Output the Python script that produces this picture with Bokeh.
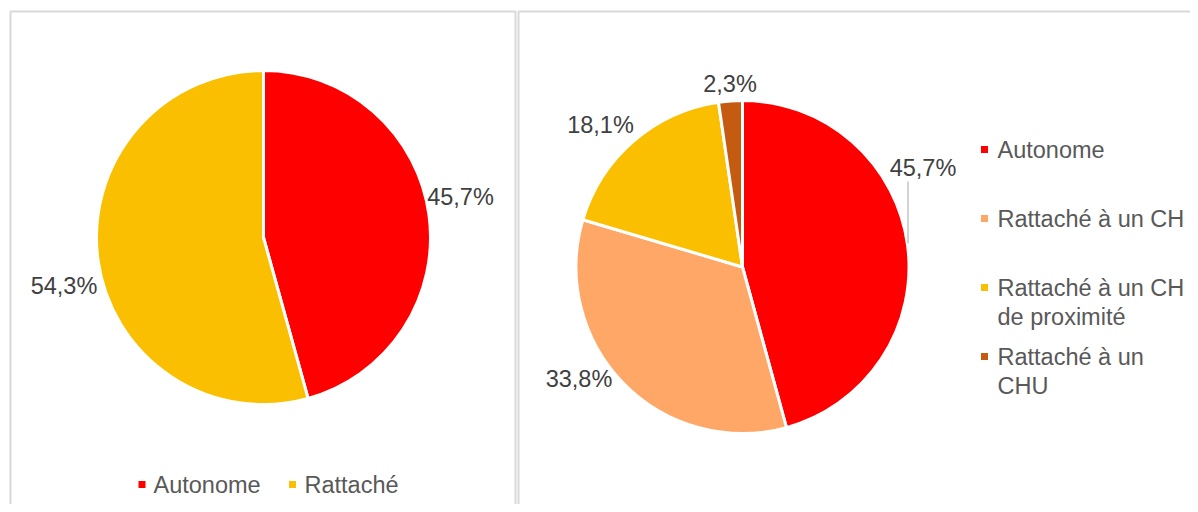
import numpy as np
from bokeh.plotting import figure
from bokeh.models import Range1d
from bokeh.core.properties import value
from bokeh.embed import file_html
from bokeh.resources import INLINE

# ---------------- data ----------------
left_categories = ["Autonome", "Rattaché"]
left_values = [45.7, 54.3]
left_colors = ["#FF0000", "#FABF00"]

right_categories = ["Autonome", "Rattaché à un CH", "Rattaché à un CH de proximité", "Rattaché à un CHU"]
right_values = [45.7, 33.8, 18.1, 2.3]
right_colors = ["#FF0000", "#FFA766", "#FABF00", "#C55A11"]
right_legend_lines = [["Autonome"], ["Rattaché à un CH"], ["Rattaché à un CH", "de proximité"], ["Rattaché à un", "CHU"]]


def fmt(v):
    return f"{v:.1f}%".replace(".", ",")


# ---------------- layout (screen pixels of the photographed picture) ----------------
W, H = 1190, 504


def Y(ys):
    return H - ys


FONT = value("Liberation Sans")
LABEL_COLOR = "#404040"
LEGEND_COLOR = "#595959"
FS = "23.5px"

p = figure(width=W, height=H, x_range=Range1d(0, W), y_range=Range1d(0, H),
           output_backend="svg", toolbar_location=None, min_border=0,
           min_border_left=0, min_border_right=0, min_border_top=0, min_border_bottom=0,
           x_axis_location=None, y_axis_location=None, outline_line_color=None,
           background_fill_color="white", border_fill_color="white")
p.grid.visible = False

# panel borders
p.quad(left=[10, 518], right=[515, 1220], top=[Y(11), Y(11)], bottom=[Y(540), Y(540)],
       fill_color=None, line_color="#D9D9D9", line_width=2)


def draw_pie(cx, cy, r, values, colors):
    vals = np.array(values, dtype=float)
    frac = vals / vals.sum()
    cum = np.concatenate([[0.0], np.cumsum(frac)])
    starts = np.pi / 2 - 2 * np.pi * cum[:-1]
    ends = np.pi / 2 - 2 * np.pi * cum[1:]
    p.wedge(x=[cx] * len(vals), y=[Y(cy)] * len(vals), radius=r,
            start_angle=list(starts), end_angle=list(ends), direction="clock",
            fill_color=colors, line_color="white", line_width=3)


# left pie
draw_pie(263, 237, 167, left_values, left_colors)
left_label_pos = [(460, 196), (63.5, 285.5)]
p.text(x=[q[0] for q in left_label_pos], y=[Y(q[1]) for q in left_label_pos],
       text=[fmt(v) for v in left_values], text_font=FONT, text_font_size=FS,
       text_color=LABEL_COLOR, text_align="center", text_baseline="middle")

# left legend
left_sq_x = [141.5, 292]
left_txt_x = [153, 304]
leg_y = 484
p.rect(x=left_sq_x, y=[Y(leg_y)] * 2, width=7, height=7, fill_color=left_colors, line_color=None)
p.text(x=left_txt_x, y=[Y(leg_y)] * 2, text=left_categories, text_font=FONT, text_font_size=FS,
       text_color=LEGEND_COLOR, text_align="left", text_baseline="middle")

# right pie
draw_pie(742, 266.5, 166.5, right_values, right_colors)
right_label_pos = [(922.5, 167), (578.5, 378), (600, 124), (729.5, 83)]
p.text(x=[q[0] for q in right_label_pos], y=[Y(q[1]) for q in right_label_pos],
       text=[fmt(v) for v in right_values], text_font=FONT, text_font_size=FS,
       text_color=LABEL_COLOR, text_align="center", text_baseline="middle")
# leader line for first label
p.segment(x0=[907.5], y0=[Y(181)], x1=[907.5], y1=[Y(243)], line_color="#A6A6A6", line_width=1)

# right legend
sq_x, txt_x = 984, 997
item_y = [149, 218, 287, 356]
line_gap = 29
p.rect(x=[sq_x] * 4, y=[Y(v) for v in item_y], width=7, height=7, fill_color=right_colors, line_color=None)
tx, ty, tt = [], [], []
for yy, lines in zip(item_y, right_legend_lines):
    for k, ln in enumerate(lines):
        tx.append(txt_x)
        ty.append(Y(yy + k * line_gap))
        tt.append(ln)
p.text(x=tx, y=ty, text=tt, text_font=FONT, text_font_size=FS,
       text_color=LEGEND_COLOR, text_align="left", text_baseline="middle")

open("out.html", "w").write(file_html(p, INLINE))
